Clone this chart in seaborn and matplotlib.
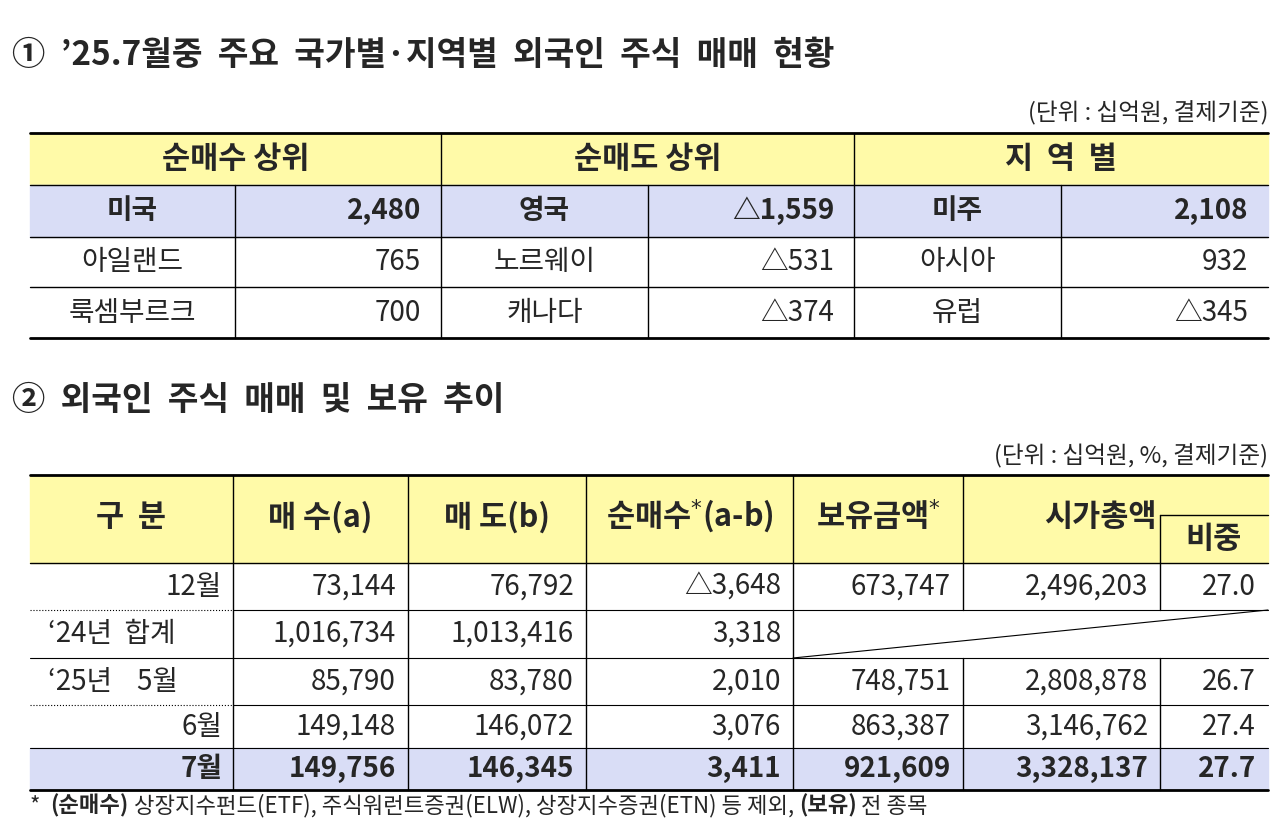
import matplotlib
matplotlib.use("Agg")
import matplotlib.pyplot as plt
import seaborn as sns
from matplotlib.patches import Rectangle

sns.set_theme(style="white")
plt.rcParams['font.family'] = ['Noto Sans CJK KR', 'DejaVu Sans']

# Table 1 data
buy_names = ["미국", "아일랜드", "룩셈부르크"]
buy_vals = ["2,480", "765", "700"]
sell_names = ["영국", "노르웨이", "캐나다"]
sell_vals = ["△1,559", "△531", "△374"]
region_names = ["미주", "아시아", "유럽"]
region_vals = ["2,108", "932", "△345"]

# Table 2 data
periods = ["12월", "‘24년  합계", "‘25년    5월", "6월", "7월"]
buys = ["73,144", "1,016,734", "85,790", "149,148", "149,756"]
sells = ["76,792", "1,013,416", "83,780", "146,072", "146,345"]
nets = ["△3,648", "3,318", "2,010", "3,076", "3,411"]
holdings = ["673,747", "", "748,751", "863,387", "921,609"]
mcaps = ["2,496,203", "", "2,808,878", "3,146,762", "3,328,137"]
shares = ["27.0", "", "26.7", "27.4", "27.7"]

YELLOW = "#fffaa8"
BLUE = "#d9ddf6"
FS = 20
HFS = 22

fig = plt.figure(figsize=(12.8, 8.38), dpi=100)
ax = fig.add_axes([0, 0, 1, 1])
ax.set_xlim(0, 1280)
ax.set_ylim(838, 0)
ax.axis("off")

def line(x0, x1, y0, y1, lw=1.0, ls="-"):
    ax.plot([x0, x1], [y0, y1], color="black", lw=lw, ls=ls)

# titles
ax.text(12, 55, "①  ’25.7월중  주요  국가별·지역별  외국인  주식  매매  현황", fontsize=24,
        fontweight="bold", va="center")
ax.text(1268, 113, "(단위 : 십억원, 결제기준)", fontsize=17, ha="right", va="center")
ax.text(12, 400, "②  외국인  주식  매매  및  보유  추이", fontsize=24, fontweight="bold", va="center")
ax.text(1268, 456, "(단위 : 십억원, %, 결제기준)", fontsize=17, ha="right", va="center")

# ---- Table 1
cx = [30, 235, 441, 648, 854, 1061, 1268]
ry = [133, 185, 237, 287, 338]
ax.add_patch(Rectangle((30, 133), 1238, 52, color=YELLOW, zorder=0))
ax.add_patch(Rectangle((30, 185), 1238, 52, color=BLUE, zorder=0))
for i, h in enumerate(["순매수 상위", "순매도 상위", "지  역  별"]):
    ax.text((cx[2 * i] + cx[2 * i + 2]) / 2, 159, h, fontsize=HFS, fontweight="bold",
            ha="center", va="center")
line(30, 1268, 133, 133, 2)
line(30, 1268, 338, 338, 2)
for y in ry[1:4]:
    line(30, 1268, y, y, 1)
for x in [441, 854]:
    line(x, x, 133, 338)
for x in [235, 648, 1061]:
    line(x, x, 185, 338)
cols1 = [(buy_names, buy_vals), (sell_names, sell_vals), (region_names, region_vals)]
for g, (names, vals) in enumerate(cols1):
    for r in range(3):
        yc = (ry[r + 1] + ry[r + 2]) / 2
        w = "bold" if r == 0 else "normal"
        ax.text((cx[2 * g] + cx[2 * g + 1]) / 2, yc, names[r], fontsize=FS, fontweight=w,
                ha="center", va="center")
        ax.text(cx[2 * g + 2] - 20, yc, vals[r], fontsize=FS, fontweight=w,
                ha="right", va="center")

# ---- Table 2
cx2 = [30, 233, 408, 586, 793, 963, 1160, 1268]
ry2 = [563, 610, 658, 705, 748, 790]
ax.add_patch(Rectangle((30, 475), 1238, 88, color=YELLOW, zorder=0))
ax.add_patch(Rectangle((30, 748), 1238, 42, color=BLUE, zorder=0))
heads = ["구  분", "매 수(a)", "매 도(b)", "순매수$^{*}$(a-b)", "보유금액$^{*}$", "시가총액"]
for i, h in enumerate(heads):
    xc = (cx2[i] + cx2[i + 1]) / 2 if i < 5 else (963 + 1268) / 2 - 15
    ax.text(xc, 517, h, fontsize=HFS, fontweight="bold", ha="center", va="center")
ax.text(1214, 539, "비중", fontsize=HFS, fontweight="bold", ha="center", va="center")
line(1160, 1268, 515, 515)
line(1160, 1160, 515, 563)
line(30, 1268, 475, 475, 2)
line(30, 1268, 790, 790, 2)
line(30, 1268, 563, 563, 1)
for x in cx2[1:5]:
    line(x, x, 475, 790)
line(963, 963, 475, 610)
line(963, 963, 658, 790)
line(1160, 1160, 563, 610)
line(1160, 1160, 658, 790)
for y in [610, 705]:
    line(30, 233, y, y, 0.8, ":")
    line(233, 1268, y, y, 0.8)
line(30, 1268, 658, 658, 0.8)
line(30, 1268, 748, 748, 0.8)
line(793, 1268, 658, 610, 0.8)

row_vals = [buys, sells, nets, holdings, mcaps, shares]
for r in range(5):
    yc = (ry2[r] + ry2[r + 1]) / 2
    w = "bold" if r == 4 else "normal"
    if r in (1, 2):
        ax.text(48, yc, periods[r], fontsize=FS, fontweight=w, ha="left", va="center")
    else:
        ax.text(222, yc, periods[r], fontsize=FS, fontweight=w, ha="right", va="center")
    for c, vals in enumerate(row_vals):
        if vals[r]:
            ax.text(cx2[c + 2] - 12, yc, vals[r], fontsize=FS, fontweight=w,
                    ha="right", va="center")

# footnote, pieces chained one after another
parts = [("*  ", "normal"), ("(순매수)", "bold"),
         (" 상장지수펀드(ETF), 주식워런트증권(ELW), 상장지수증권(ETN) 등 제외, ", "normal"),
         ("(보유)", "bold"), (" 전 종목", "normal")]
prev = ax.text(30, 806, parts[0][0], fontsize=16, fontweight=parts[0][1], va="center")
for txt, w in parts[1:]:
    prev = ax.annotate(txt, xy=(1, 0.5), xycoords=prev, fontsize=16, fontweight=w,
                       va="center", ha="left")

fig.savefig("out.png", dpi=100)
